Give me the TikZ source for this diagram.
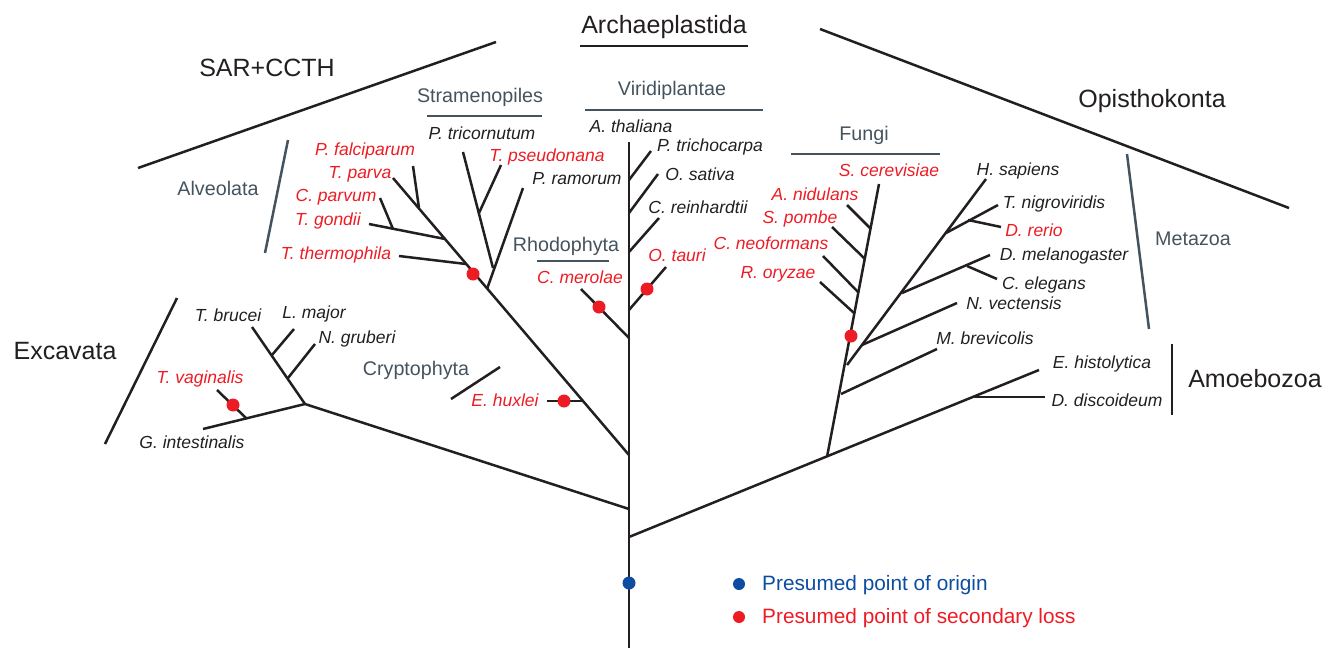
\documentclass[tikz,border=0pt]{standalone}
\usepackage{fontspec}
\setmainfont{Liberation Sans}
\definecolor{linec}{HTML}{231F20}
\definecolor{slate}{HTML}{44535E}
\definecolor{lossred}{HTML}{ED1C24}
\definecolor{origblue}{HTML}{0D4DA1}
\tikzset{
  br/.style={line width=2.5pt, draw=linec},
  cl/.style={line width=2.5pt, draw=slate},
  sp/.style={font=\fontsize{17.5}{20}\selectfont\itshape, inner sep=0pt, text height=0.72em, text depth=0.2em, text=linec, yshift=-4pt},
  spr/.style={sp, text=lossred},
  grp/.style={font=\fontsize{19.7}{22}\selectfont, text=slate, inner sep=0pt, text height=0.72em, text depth=0.2em, yshift=-4pt},
  big/.style={font=\fontsize{25}{28}\selectfont, text=linec, inner sep=0pt, text height=0.72em, text depth=0.2em, yshift=-6pt},
  leg/.style={font=\fontsize{20.8}{24}\selectfont, inner sep=0pt, text height=0.72em, text depth=0.2em, anchor=west, yshift=-4pt},
  loss/.style={circle, fill=lossred, minimum size=13pt, inner sep=0pt},
  orig/.style={circle, fill=origblue, minimum size=13pt, inner sep=0pt},
}
\begin{document}
\begin{tikzpicture}[x=1pt,y=-1pt]
\useasboundingbox (0,0) rectangle (1342,648);
% ---------- trunk coordinates ----------
\coordinate (root) at (629,648);
\coordinate (n1) at (629,537);
\coordinate (n2) at (629,509);
\coordinate (n3) at (629,455);
\coordinate (vrh) at (629,338);
\coordinate (vot) at (629,310);
\coordinate (vcr) at (629,252);
\coordinate (vos) at (629,213);
\coordinate (vpt) at (629,180);
\coordinate (vat) at (629,142);
\draw[br] (root) -- (vat);
% Viridiplantae / Rhodophyta tips
\coordinate (tpt) at (651,151);
\coordinate (tos) at (658,174);
\coordinate (tcr) at (659,218);
\coordinate (tot) at (666,267);
\coordinate (tcm) at (581,289);
\draw[br] (vpt) -- (tpt);
\draw[br] (vos) -- (tos);
\draw[br] (vcr) -- (tcr);
\draw[br] (vot) -- (tot);
\draw[br] (vrh) -- (tcm);
% ---------- Amoebozoa / Opisthokonta ----------
\coordinate (teh) at (1039,370);
\coordinate (amj) at (973,397);
\coordinate (tdd) at (1045,397);
\coordinate (op) at (827,457);
\draw[br] (n1) -- (teh);
\draw[br] (amj) -- (tdd);
% fungal line
\coordinate (tsc) at (879,184);
\draw[br] (op) -- (tsc);
\coordinate (fan) at (871,229);
\coordinate (tan) at (847,205);
\coordinate (fsp) at (865,259);
\coordinate (tsp) at (832,227);
\coordinate (fcn) at (858,292);
\coordinate (tcn) at (823,256);
\coordinate (fro) at (854,313);
\coordinate (tro) at (820,282);
\draw[br] (fan) -- (tan);
\draw[br] (fsp) -- (tsp);
\draw[br] (fcn) -- (tcn);
\draw[br] (fro) -- (tro);
% holozoa
\coordinate (fmb) at (841,394);
\coordinate (tmb) at (937,349);
\draw[br] (fmb) -- (tmb);
\coordinate (fmz) at (847,365);
\coordinate (ths) at (986,179);
\draw[br] (fmz) -- (ths);
\coordinate (mnv) at (862,345);
\coordinate (tnv) at (957,303);
\draw[br] (mnv) -- (tnv);
\coordinate (mdm) at (902,293);
\coordinate (tdm) at (990,255);
\coordinate (jce) at (967,266);
\coordinate (tce) at (997,279);
\draw[br] (mdm) -- (tdm);
\draw[br] (jce) -- (tce);
\coordinate (mtn) at (946,233);
\coordinate (ttn) at (998,205);
\coordinate (jdr) at (968,220);
\coordinate (tdr) at (1001,227);
\draw[br] (mtn) -- (ttn);
\draw[br] (jdr) -- (tdr);
% ---------- Excavata ----------
\coordinate (ex) at (305,404);
\draw[br] (n2) -- (ex);
\coordinate (ttb) at (252,327);
\draw[br] (ex) -- (ttb);
\coordinate (jlm) at (272,355);
\coordinate (tlm) at (294,329);
\coordinate (jng) at (288,378);
\coordinate (tng) at (315,344);
\draw[br] (jlm) -- (tlm);
\draw[br] (jng) -- (tng);
\coordinate (tgi) at (203,429);
\draw[br] (ex) -- (tgi);
\coordinate (jtv) at (246,418);
\coordinate (ttv) at (217,390);
\draw[br] (jtv) -- (ttv);
% ---------- SAR ----------
\coordinate (ttp) at (393,178);
\draw[br] (n3) -- (ttp);
\coordinate (jeh) at (583,401);
\coordinate (teh2) at (547,401);
\draw[br] (jeh) -- (teh2);
\coordinate (jst) at (487,289);
\coordinate (tpr) at (523,188);
\draw[br] (jst) -- (tpr);
\coordinate (jpt) at (493,268);
\coordinate (tptc) at (463,152);
\draw[br] (jpt) -- (tptc);
\coordinate (jps) at (479,213);
\coordinate (tps) at (501,165);
\draw[br] (jps) -- (tps);
\coordinate (jtt) at (466,264);
\coordinate (ttt) at (399,256);
\draw[br] (jtt) -- (ttt);
\coordinate (jtg) at (445,239);
\coordinate (ttg) at (369,224);
\draw[br] (jtg) -- (ttg);
\coordinate (jcp) at (393,229);
\coordinate (tcp) at (380,198);
\draw[br] (jcp) -- (tcp);
\coordinate (jpf) at (419,208);
\coordinate (tpf) at (413,166);
\draw[br] (jpf) -- (tpf);
% ---------- clade bars ----------
\coordinate (sarA) at (138,168); \coordinate (sarB) at (496,42);
\draw[br] (sarA) -- (sarB);
\coordinate (arA) at (580,46); \coordinate (arB) at (748,46);
\draw[br] (arA) -- (arB);
\coordinate (opA) at (820,29); \coordinate (opB) at (1289,208);
\draw[br] (opA) -- (opB);
\coordinate (exA) at (177,298); \coordinate (exB) at (105,444);
\draw[br] (exA) -- (exB);
\coordinate (amA) at (1172,344); \coordinate (amB) at (1172,415);
\draw[br] (amA) -- (amB);
\coordinate (crA) at (451,399); \coordinate (crB) at (500,367);
\draw[br] (crA) -- (crB);
\coordinate (stA) at (427,116); \coordinate (stB) at (542,116);
\draw[cl] (stA) -- (stB);
\coordinate (alA) at (288,140); \coordinate (alB) at (265,253);
\draw[cl] (alA) -- (alB);
\coordinate (viA) at (585,110); \coordinate (viB) at (763,110);
\draw[cl] (viA) -- (viB);
\coordinate (rhA) at (537,261); \coordinate (rhB) at (609,261);
\draw[cl] (rhA) -- (rhB);
\coordinate (fuA) at (791,154); \coordinate (fuB) at (940,154);
\draw[cl] (fuA) -- (fuB);
\coordinate (mzA) at (1127,154); \coordinate (mzB) at (1149,329);
\draw[cl] (mzA) -- (mzB);
% ---------- dots ----------
\node[orig] (dorig) at (629,583) {};
\node[loss] (dsar) at (473,274) {};
\node[loss] (deh) at (564,401) {};
\node[loss] (dcm) at (599,307) {};
\node[loss] (dot) at (647,289) {};
\node[loss] (dfu) at (851,336) {};
\node[loss] (dtv) at (233,405) {};
% ---------- species labels ----------
\node[sp] (lptc) at (482,133) {P. tricornutum};
\node[sp] (lpr) at (577,178) {P. ramorum};
\node[sp] (lat) at (631,126) {A. thaliana};
\node[sp] (lpt) at (710,145) {P. trichocarpa};
\node[sp] (los) at (700,174) {O. sativa};
\node[sp] (lcr) at (698,207) {C. reinhardtii};
\node[sp] (lhs) at (1018,169) {H. sapiens};
\node[sp] (ltn) at (1054,202) {T. nigroviridis};
\node[sp] (ldm) at (1064,254) {D. melanogaster};
\node[sp] (lce) at (1044,283) {C. elegans};
\node[sp] (lnv) at (1014,303) {N. vectensis};
\node[sp] (lmb) at (985,338) {M. brevicolis};
\node[sp] (leh) at (1102,362) {E. histolytica};
\node[sp] (ldd) at (1107,400) {D. discoideum};
\node[sp] (ltb) at (228,315) {T. brucei};
\node[sp] (llm) at (314,312) {L. major};
\node[sp] (lng) at (357,337) {N. gruberi};
\node[sp] (lgi) at (192,442) {G. intestinalis};
\node[spr] (lpf) at (365,149) {P. falciparum};
\node[spr] (ltp) at (360,172) {T. parva};
\node[spr] (lcp) at (336,195) {C. parvum};
\node[spr] (ltg) at (328,219) {T. gondii};
\node[spr] (ltt) at (336,253) {T. thermophila};
\node[spr] (lps) at (547,155) {T. pseudonana};
\node[spr] (lcm) at (580,277) {C. merolae};
\node[spr] (lot) at (677,255) {O. tauri};
\node[spr] (lehx) at (505,400) {E. huxlei};
\node[spr] (lsc) at (889,170) {S. cerevisiae};
\node[spr] (lan) at (815,194) {A. nidulans};
\node[spr] (lsp) at (800,217) {S. pombe};
\node[spr] (lcn) at (771,243) {C. neoformans};
\node[spr] (lro) at (778,272) {R. oryzae};
\node[spr] (ldr) at (1034,230) {D. rerio};
\node[spr] (ltv) at (200,377) {T. vaginalis};
% ---------- group labels ----------
\node[grp] (gst) at (480,96) {Stramenopiles};
\node[grp] (gal) at (218,189) {Alveolata};
\node[grp] (gvi) at (672,89) {Viridiplantae};
\node[grp] (grh) at (566,245) {Rhodophyta};
\node[grp] (gcr) at (416,369) {Cryptophyta};
\node[grp] (gfu) at (864,134) {Fungi};
\node[grp] (gmz) at (1193,239) {Metazoa};
\node[big] (bar) at (664,25) {Archaeplastida};
\node[big] (bsar) at (267,68) {SAR+CCTH};
\node[big] (bop) at (1152,99) {Opisthokonta};
\node[big] (bex) at (65,351) {Excavata};
\node[big] (bam) at (1255,379) {Amoebozoa};
% ---------- legend ----------
\node[orig, minimum size=12pt] (lgo) at (739,584) {};
\node[loss, minimum size=12pt] (lgl) at (739,617) {};
\node[leg, text=origblue] (lto) at (762,584) {Presumed point of origin};
\node[leg, text=lossred] (ltl) at (762,617) {Presumed point of secondary loss};
\end{tikzpicture}
\end{document}
